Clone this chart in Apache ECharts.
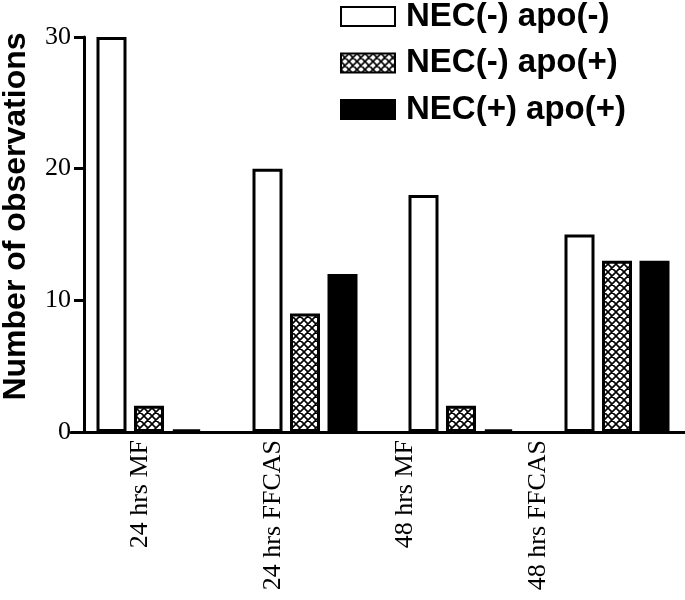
<!DOCTYPE html>
<html>
<head>
<meta charset="utf-8">
<script src="https://cdn.jsdelivr.net/npm/echarts@6/dist/echarts.min.js"></script>
<style>
html,body{margin:0;padding:0;background:#fff;}
#chart{width:685px;height:600px;}
</style>
</head>
<body>
<div id="chart"></div>
<script>
// ---- data ----
const categories = ['24 hrs MF', '24 hrs FFCAS', '48 hrs MF', '48 hrs FFCAS'];
const seriesNames = ['NEC(-) apo(-)', 'NEC(-) apo(+)', 'NEC(+) apo(+)'];
const necNegApoNeg = [30, 20, 18, 15];
const necNegApoPos = [2, 9, 2, 13];
const necPosApoPos = [0.2, 12, 0.2, 13];
const yTickValues = [0, 10, 20, 30];
const yAxisTitle = 'Number of observations';

// ---- cross-hatch pattern ----
function makeHatch() {
  const s = 8;
  const c = document.createElement('canvas');
  c.width = s; c.height = s;
  const ctx = c.getContext('2d');
  ctx.fillStyle = '#fff';
  ctx.fillRect(0, 0, s, s);
  ctx.strokeStyle = '#000';
  ctx.lineWidth = 1.6;
  ctx.beginPath();
  for (let k = -1; k <= 1; k++) {
    ctx.moveTo(k * s, 0); ctx.lineTo(k * s + s, s);
    ctx.moveTo(k * s + s, 0); ctx.lineTo(k * s, s);
  }
  ctx.stroke();
  return c;
}
const hatch = { image: makeHatch(), repeat: 'repeat' };

const sans = '"Liberation Sans", Arial, Helvetica, sans-serif';
const serif = '"Liberation Serif", "Times New Roman", serif';

const chart = echarts.init(document.getElementById('chart'), null, { renderer: 'canvas' });

const barCommon = {
  type: 'bar',
  xAxisIndex: 0,
  yAxisIndex: 0,
  barWidth: 30,
  barGap: '25%',
  animation: false
};

chart.setOption({
  backgroundColor: '#fff',
  animation: false,
  grid: [
    { left: 71, width: 624, top: 37, height: 395, outerBoundsMode: 'none', containLabel: false },
    { left: 74, width: 530, top: 37, height: 395, outerBoundsMode: 'none', containLabel: false }
  ],
  legend: {
    orient: 'vertical',
    left: 340,
    top: 0,
    padding: 0,
    itemWidth: 54,
    itemHeight: 19,
    itemGap: 13.5,
    icon: 'rect',
    data: seriesNames,
    textStyle: {
      fontFamily: sans,
      fontWeight: 'bold',
      fontSize: 33,
      lineHeight: 32,
      color: '#000',
      padding: [0, 0, 0, 6]
    }
  },
  xAxis: [
    {
      type: 'category',
      gridIndex: 0,
      data: categories,
      axisLine: { show: true, onZero: false, lineStyle: { color: '#000', width: 3 } },
      axisTick: { show: false },
      axisLabel: { show: false },
      splitLine: { show: false }
    },
    {
      type: 'category',
      gridIndex: 1,
      data: categories,
      axisLine: { show: false },
      axisTick: { show: false },
      splitLine: { show: false },
      axisLabel: {
        show: true,
        rotate: 90,
        margin: 8,
        fontFamily: serif,
        fontSize: 26,
        color: '#000'
      }
    }
  ],
  yAxis: [
    {
      type: 'value',
      gridIndex: 0,
      min: yTickValues[0],
      max: yTickValues[yTickValues.length - 1],
      interval: yTickValues[1] - yTickValues[0],
      offset: -13,
      name: yAxisTitle,
      nameLocation: 'middle',
      nameGap: 52,
      nameTextStyle: {
        fontFamily: sans,
        fontWeight: 'bold',
        fontSize: 32,
        color: '#000',
        padding: [0, 0, 0, 36]
      },
      axisLine: { show: true, onZero: false, lineStyle: { color: '#000', width: 3 } },
      axisTick: { show: true, length: 10, lineStyle: { color: '#000', width: 3 } },
      axisLabel: {
        margin: 13,
        fontFamily: serif,
        fontSize: 26,
        color: '#000'
      },
      splitLine: { show: false }
    },
    {
      type: 'value',
      gridIndex: 1,
      show: false,
      min: 0,
      max: 30
    }
  ],
  series: [
    Object.assign({}, barCommon, {
      name: seriesNames[0],
      data: necNegApoNeg,
      itemStyle: { color: '#fff', borderColor: '#000', borderWidth: 3 }
    }),
    Object.assign({}, barCommon, {
      name: seriesNames[1],
      data: necNegApoPos,
      itemStyle: { color: hatch, borderColor: '#000', borderWidth: 3 }
    }),
    Object.assign({}, barCommon, {
      name: seriesNames[2],
      data: necPosApoPos,
      itemStyle: { color: '#000', borderColor: '#000', borderWidth: 3 }
    })
  ]
});
</script>
</body>
</html>
